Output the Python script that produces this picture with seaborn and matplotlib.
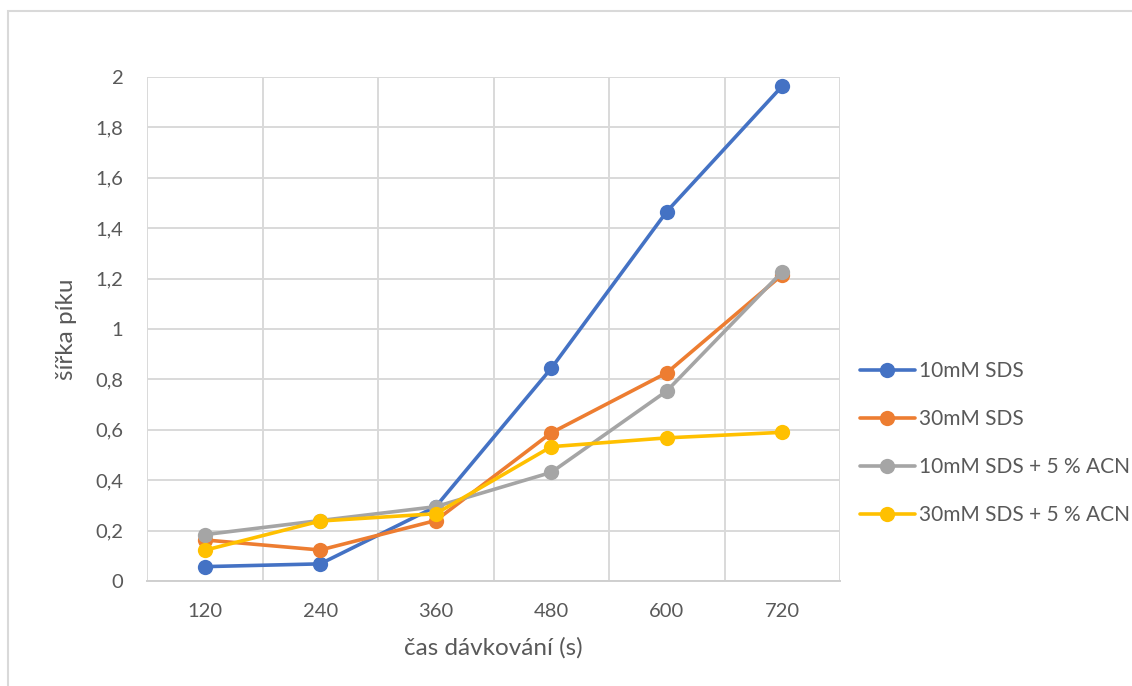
import matplotlib
matplotlib.use("Agg")
import matplotlib.pyplot as plt
import matplotlib.patches as mpatches
from matplotlib.ticker import FixedLocator, FuncFormatter
import seaborn as sns
import pandas as pd

times = ["120", "240", "360", "480", "600", "720"]
series_names = ["10mM SDS", "30mM SDS", "10mM SDS + 5 % ACN", "30mM SDS + 5 % ACN"]
sds10 = [0.057, 0.068, 0.295, 0.844, 1.466, 1.964]
sds30 = [0.163, 0.123, 0.240, 0.588, 0.826, 1.215]
sds10_acn = [0.184, 0.240, 0.295, 0.431, 0.754, 1.227]
sds30_acn = [0.122, 0.238, 0.267, 0.533, 0.568, 0.590]
colors = ["#4472C4", "#ED7D31", "#A5A5A5", "#FFC000"]

rows = []
for name, vals in zip(series_names, [sds10, sds30, sds10_acn, sds30_acn]):
    for t, v in zip(times, vals):
        rows.append({"t": t, "w": v, "series": name})
df = pd.DataFrame(rows)

sns.set_theme(style="white")
plt.rcParams["font.family"] = ["Lato", "DejaVu Sans"]
text_color = "#595959"
grid_color = "#D9D9D9"


def fmt(v, p):
    if abs(v - round(v)) < 1e-9:
        return str(int(round(v)))
    return f"{v:.1f}".replace(".", ",")


fig = plt.figure(figsize=(11.32, 6.86), dpi=100)
ax = fig.add_axes([147 / 1132, 1 - 581 / 686, (840 - 147) / 1132, (581 - 77) / 686])

sns.lineplot(data=df, x="t", y="w", hue="series", hue_order=series_names,
             palette=colors, marker="o", markersize=11, markeredgewidth=0,
             linewidth=2.6, sort=False, ax=ax, zorder=3)

ax.set_xlim(-0.5, len(times) - 0.5)
ax.set_ylim(0, 2)
ax.yaxis.set_major_locator(FixedLocator([i * 0.2 for i in range(11)]))
ax.yaxis.set_major_formatter(FuncFormatter(fmt))
ax.set_xticks(range(len(times)))
ax.set_xticklabels(times)
ax.xaxis.set_minor_locator(FixedLocator([i - 0.5 for i in range(len(times) + 1)]))

ax.grid(False)
ax.yaxis.grid(True, which="major", color=grid_color, linewidth=1.4, zorder=0)
ax.xaxis.grid(True, which="minor", color=grid_color, linewidth=1.4, zorder=0)
for s in ["top", "right", "left"]:
    ax.spines[s].set_visible(False)
ax.spines["bottom"].set_color("#CFCFCF")
ax.spines["bottom"].set_linewidth(1.4)

ax.tick_params(axis="both", which="both", length=0, labelsize=14.5, labelcolor=text_color)
ax.tick_params(axis="x", pad=16)
ax.tick_params(axis="y", pad=17)

ax.set_xlabel("čas dávkování (s)", fontsize=17.5, color=text_color, labelpad=12)
ax.set_ylabel("šířka píku", fontsize=17.5, color=text_color, labelpad=13)

handles, labels = ax.get_legend_handles_labels()
ax.legend(handles, labels, loc="center left", bbox_to_anchor=(852 / 1132, 1 - 443 / 686),
          bbox_transform=fig.transFigure, frameon=False, fontsize=15,
          labelcolor=text_color, handlelength=2.6, handletextpad=0.2,
          labelspacing=1.35, borderaxespad=0)

border = mpatches.Rectangle((8 / 1132, -0.1), 1.2, 1 - 11 / 686 + 0.1,
                            transform=fig.transFigure, fill=False,
                            edgecolor=grid_color, linewidth=1.5)
fig.patches.append(border)

fig.savefig("out.png", dpi=100)
